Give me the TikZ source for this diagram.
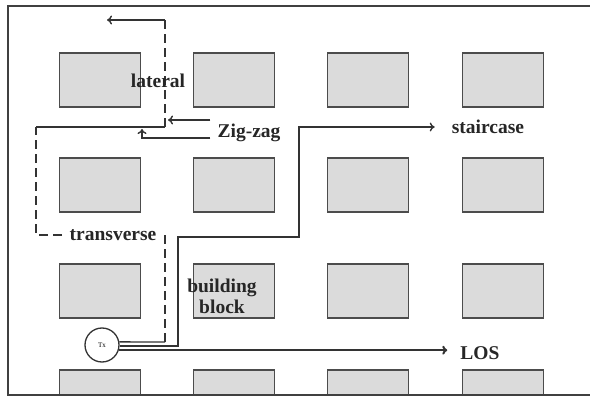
\documentclass[tikz,border=0pt]{standalone}
\usepackage{fontspec}
\setmainfont{Liberation Serif}
\usetikzlibrary{arrows.meta}

\begin{document}
\begin{tikzpicture}[
    x=1pt, y=-1pt,
    block/.style={draw=black!70, fill=black!14, line width=1.5pt,
                  minimum width=81pt, minimum height=54pt, inner sep=0pt},
    lbl/.style={font=\bfseries\fontsize{19.5}{21}\selectfont, text=black!85,
                inner sep=1pt, align=center},
    route/.style={line width=1.4pt, draw=black!80},
    dashroute/.style={route, dash pattern=on 9pt off 5pt},
    arrow/.style={route, -{To[length=5pt,width=9pt]}}
]
\useasboundingbox (0,0) rectangle (590,398);

% building blocks
\begin{scope}
\clip (8,6) rectangle (590,395);
\foreach \r/\y in {1/80,2/185,3/291,4/397}
  \foreach \c/\x in {1/100,2/234,3/368,4/503}
    \node[block] (b\r\c) at (\x,\y) {};
\end{scope}
\draw[line width=1.5pt, black!75] (592,6) -- (8,6) -- (8,395) -- (592,395);

% transmitter
\node[circle, draw=black!80, line width=1.3pt, minimum size=34pt, inner sep=0pt,
      font=\fontsize{7}{8}\selectfont] (tx) at (102,345) {Tx};

% corners of the routes
\coordinate (tvup) at (165,235);
\coordinate (tvleft) at (36,235);
\coordinate (zzleft) at (36,127);
\coordinate (zzright) at (165,127);
\coordinate (latend) at (107,20);

% labels
\node[lbl] (los)   at (480,353) {LOS};
\node[lbl] (stair) at (488,127) {staircase};
\node[lbl] (zig)   at (249,133) {Zig-zag};

% line of sight
\draw[arrow, line width=2pt, shorten >=12pt] (tx.-17) -- (tx.-17 -| los.west);
% staircase
\draw[arrow, shorten >=16pt] (tx.-3) -| (178,237) -| (299,127) -- (stair.west);
% transverse / zig-zag / lateral
\draw[route] (tx.10) -- (165,342);
\draw[dashroute] (165,342) -- (tvup) -- (tvleft) -- (zzleft);
\draw[route] (zzleft) -- (zzright);
\draw[dashroute] (zzright) -- (165,20);
\draw[arrow] (165,20) -- (latend);

\node[lbl, fill=white, inner xsep=5pt] (trans) at (113,235) {transverse};
\node[lbl] (lat)   at (158,81) {lateral};
\node[lbl] (bblk)  at (222,296) {building\\block};

% pointers from the zig-zag label
\draw[arrow, shorten <=6pt] (zig.west |- 0,120) -- (168,120);
\draw[arrow, shorten <=6pt] (zig.west |- 0,138) -| (142,129);
\end{tikzpicture}
\end{document}
